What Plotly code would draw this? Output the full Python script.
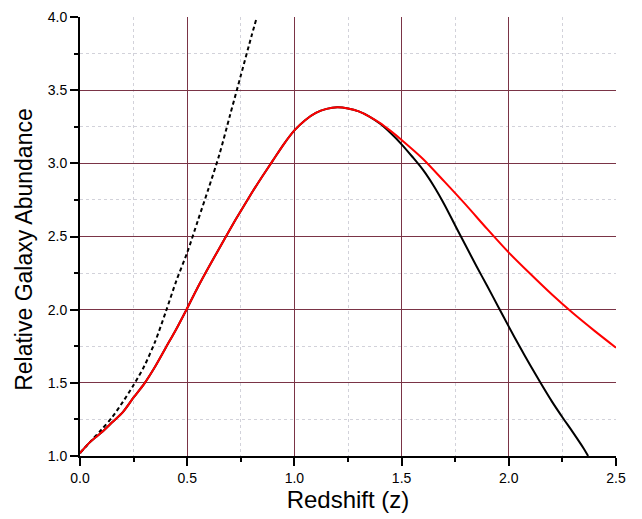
import plotly.graph_objects as go

# Redshift grid and series values
z_model = [0, 0.05, 0.1, 0.15, 0.2, 0.25, 0.3, 0.35, 0.4, 0.45, 0.5, 0.55, 0.6, 0.65,
           0.7, 0.75, 0.8, 0.85, 0.9, 0.95, 1.0, 1.05, 1.1, 1.15, 1.2, 1.25, 1.3, 1.35,
           1.4, 1.45, 1.5, 1.6, 1.7, 1.8, 1.9, 2.0, 2.1, 2.2, 2.3, 2.4, 2.5]
red_values = [1.02, 1.10, 1.16, 1.23, 1.30, 1.40, 1.495, 1.61, 1.74, 1.87, 2.01, 2.155,
              2.29, 2.42, 2.55, 2.675, 2.795, 2.91, 3.02, 3.13, 3.225, 3.295, 3.345,
              3.372, 3.383, 3.375, 3.355, 3.32, 3.275, 3.22, 3.16, 3.03, 2.875, 2.716,
              2.55, 2.39, 2.245, 2.105, 1.975, 1.855, 1.74]

z_black = [0, 0.05, 0.1, 0.15, 0.2, 0.25, 0.3, 0.35, 0.4, 0.45, 0.5, 0.55, 0.6, 0.65,
           0.7, 0.75, 0.8, 0.85, 0.9, 0.95, 1.0, 1.05, 1.1, 1.15, 1.2, 1.25, 1.3, 1.35,
           1.4, 1.45, 1.5, 1.55, 1.6, 1.65, 1.7, 1.75, 1.8, 1.85, 1.9, 1.95, 2.0, 2.05,
           2.1, 2.15, 2.2, 2.25, 2.3, 2.35, 2.37]
black_values = [1.02, 1.10, 1.16, 1.23, 1.30, 1.40, 1.495, 1.61, 1.74, 1.87, 2.01, 2.155,
                2.29, 2.42, 2.55, 2.675, 2.795, 2.91, 3.02, 3.13, 3.225, 3.295, 3.345,
                3.372, 3.383, 3.375, 3.355, 3.32, 3.27, 3.205, 3.13, 3.045, 2.955, 2.845,
                2.717, 2.575, 2.435, 2.295, 2.16, 2.022, 1.884, 1.75, 1.62, 1.495, 1.375,
                1.265, 1.16, 1.05, 1.0]

z_dashed = [0, 0.05, 0.1, 0.15, 0.2, 0.25, 0.3, 0.35, 0.4, 0.45, 0.5, 0.55, 0.6, 0.65,
            0.7, 0.75, 0.8, 0.825]
dashed_values = [1.02, 1.10, 1.18, 1.265, 1.37, 1.485, 1.615, 1.78, 1.985, 2.20, 2.39,
                 2.61, 2.83, 3.06, 3.33, 3.60, 3.87, 4.0]

x_tick_vals = [0.0, 0.5, 1.0, 1.5, 2.0, 2.5]
x_tick_text = ["0.0", "0.5", "1.0", "1.5", "2.0", "2.5"]
y_tick_vals = [1.0, 1.5, 2.0, 2.5, 3.0, 3.5, 4.0]
y_tick_text = ["1.0", "1.5", "2.0", "2.5", "3.0", "3.5", "4.0"]

fig = go.Figure()
fig.add_trace(go.Scatter(x=z_dashed, y=dashed_values, mode="lines",
                         line=dict(color="black", width=2, dash="4px,3px",
                                   shape="spline", smoothing=0.8),
                         showlegend=False))
fig.add_trace(go.Scatter(x=z_black, y=black_values, mode="lines",
                         line=dict(color="black", width=2, shape="spline", smoothing=0.8),
                         showlegend=False))
fig.add_trace(go.Scatter(x=z_model, y=red_values, mode="lines",
                         line=dict(color="#ff0000", width=2, shape="spline", smoothing=0.8),
                         showlegend=False))

major_grid = "#7a3446"
minor_grid = "#d2d2da"
font_family = "Liberation Sans, Arial, sans-serif"

fig.update_xaxes(
    range=[0, 2.5], tickvals=x_tick_vals, ticktext=x_tick_text,
    showline=True, linecolor="black", linewidth=2,
    ticks="outside", ticklen=8, tickwidth=1.5, tickcolor="black",
    showgrid=True, gridcolor=major_grid, gridwidth=1,
    minor=dict(dtick=0.25, showgrid=True, gridcolor=minor_grid, griddash="dot",
               gridwidth=1, ticks="outside", ticklen=4, tickwidth=1.5, tickcolor="black"),
    tickfont=dict(family=font_family, size=14, color="black"),
    title=dict(text="Redshift (z)", font=dict(family=font_family, size=24, color="black"),
               standoff=6),
    zeroline=False, automargin=False,
)
fig.update_yaxes(
    range=[1.0, 4.0], tickvals=y_tick_vals, ticktext=y_tick_text,
    showline=True, linecolor="black", linewidth=2,
    ticks="outside", ticklen=8, tickwidth=1.5, tickcolor="black",
    showgrid=True, gridcolor=major_grid, gridwidth=1,
    minor=dict(dtick=0.25, showgrid=True, gridcolor=minor_grid, griddash="dot",
               gridwidth=1, ticks="outside", ticklen=4, tickwidth=1.5, tickcolor="black"),
    tickfont=dict(family=font_family, size=14, color="black"),
    zeroline=False, automargin=False,
)

fig.add_annotation(
    text="Relative Galaxy Abundance", textangle=-90,
    xref="paper", yref="paper", x=-0.106, y=0.47,
    xanchor="center", yanchor="middle", showarrow=False,
    font=dict(family=font_family, size=23, color="black"),
)

fig.update_layout(
    width=642, height=519,
    margin=dict(l=80, r=26, t=17, b=63),
    paper_bgcolor="white", plot_bgcolor="white",
)

fig.write_html("out.html")
